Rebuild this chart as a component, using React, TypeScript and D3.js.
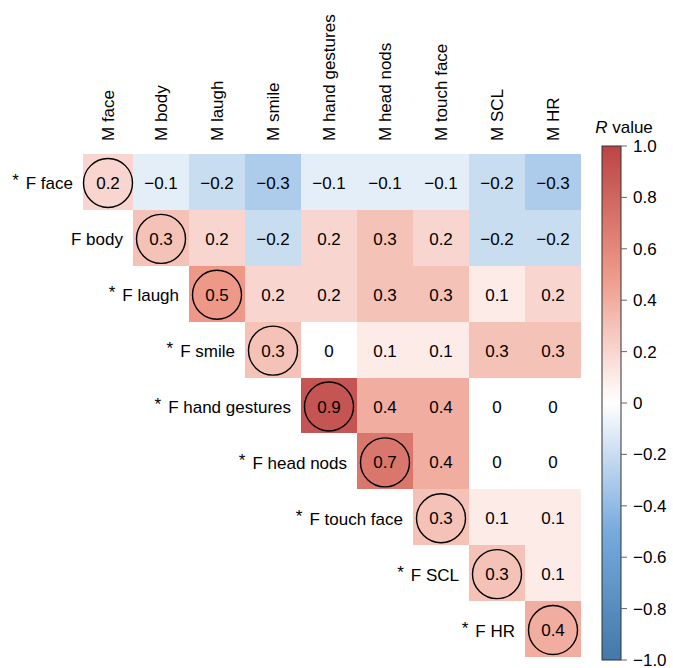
import { useEffect, useRef } from 'react'
import * as d3 from 'd3'

// Column (M) and row (F) labels
const colLabels = ['M face', 'M body', 'M laugh', 'M smile', 'M hand gestures', 'M head nods', 'M touch face', 'M SCL', 'M HR']
const rowLabels = ['F face', 'F body', 'F laugh', 'F smile', 'F hand gestures', 'F head nods', 'F touch face', 'F SCL', 'F HR']
// rows marked with an asterisk
const starred = [true, false, true, true, true, true, true, true, true]

// R values, upper triangle (null = not drawn)
const rValues: (number | null)[][] = [
  [0.2, -0.1, -0.2, -0.3, -0.1, -0.1, -0.1, -0.2, -0.3],
  [null, 0.3, 0.2, -0.2, 0.2, 0.3, 0.2, -0.2, -0.2],
  [null, null, 0.5, 0.2, 0.2, 0.3, 0.3, 0.1, 0.2],
  [null, null, null, 0.3, 0, 0.1, 0.1, 0.3, 0.3],
  [null, null, null, null, 0.9, 0.4, 0.4, 0, 0],
  [null, null, null, null, null, 0.7, 0.4, 0, 0],
  [null, null, null, null, null, null, 0.3, 0.1, 0.1],
  [null, null, null, null, null, null, null, 0.3, 0.1],
  [null, null, null, null, null, null, null, null, 0.4],
]

const legendTicks = [1, 0.8, 0.6, 0.4, 0.2, 0, -0.2, -0.4, -0.6, -0.8, -1]

const FONT = '"Liberation Sans", Arial, Helvetica, sans-serif'

const fmt = (v: number) => {
  if (v === 0) return '0'
  return (v < 0 ? '\u2212' : '') + d3.format('.1f')(Math.abs(v))
}

export default function App() {
  const svgRef = useRef<SVGSVGElement>(null)

  useEffect(() => {
    if (!svgRef.current) return
    const svg = d3.select(svgRef.current)
    svg.selectAll('*').remove()

    const color = d3.scaleLinear<string>()
      .domain([-1, -0.5, 0, 0.5, 1])
      .range(['#4477AA', '#77AADD', '#FFFFFF', '#EE9988', '#BB4444'])
      .interpolate(d3.interpolateRgb)

    const x = d3.scaleBand<number>().domain(d3.range(9)).range([77, 581])
    const y = d3.scaleBand<number>().domain(d3.range(9)).range([154, 657])
    const clipLeft = 83 // the first column is cropped on the left

    const x0 = (j: number) => Math.max(x(j)!, clipLeft)
    const x1 = (j: number) => x(j)! + x.bandwidth()
    const cx = (j: number) => (x0(j) + x1(j)) / 2
    const cy = (i: number) => y(i)! + y.bandwidth() / 2

    const cells = rValues.flatMap((row, i) =>
      row.map((v, j) => ({ i, j, v })).filter(d => d.v !== null)
    ) as { i: number; j: number; v: number }[]

    const g = svg.append('g').attr('font-family', FONT)

    // Cells
    g.append('g')
      .selectAll('rect')
      .data(cells)
      .join('rect')
      .attr('x', d => x0(d.j))
      .attr('y', d => y(d.i)!)
      .attr('width', d => x1(d.j) - x0(d.j))
      .attr('height', y.bandwidth())
      .attr('fill', d => color(d.v))
      .attr('shape-rendering', 'crispEdges')

    // Diagonal circles
    g.append('g')
      .selectAll('circle')
      .data(cells.filter(d => d.i === d.j))
      .join('circle')
      .attr('cx', d => cx(d.j))
      .attr('cy', d => cy(d.i) + 1)
      .attr('r', 24.5)
      .attr('fill', 'none')
      .attr('stroke', '#000')
      .attr('stroke-width', 1.4)

    // Cell values
    g.append('g')
      .selectAll('text')
      .data(cells)
      .join('text')
      .attr('x', d => cx(d.j))
      .attr('y', d => cy(d.i) + 7)
      .attr('text-anchor', 'middle')
      .attr('font-size', 17)
      .attr('fill', '#000')
      .text(d => fmt(d.v))

    // Row labels (asterisk raised slightly)
    const rl = g.append('g')
      .selectAll('text')
      .data(rowLabels)
      .join('text')
      .attr('x', (_, i) => x0(i) - 10)
      .attr('y', (_, i) => cy(i) + 7.5)
      .attr('text-anchor', 'end')
      .attr('font-size', 17)
    rl.filter((_, i) => starred[i])
      .append('tspan')
      .attr('dy', -3)
      .text('*')
    rl.append('tspan')
      .attr('dy', (_, i) => (starred[i] ? 3 : 0))
      .attr('dx', (_, i) => (starred[i] ? 7 : 0))
      .text(d => d)

    // Column labels
    g.append('g')
      .selectAll('text')
      .data(colLabels)
      .join('text')
      .attr('transform', (_, j) => `translate(${cx(j) + 6},141) rotate(-90)`)
      .attr('text-anchor', 'start')
      .attr('font-size', 17)
      .text(d => d)

    // Colour bar
    const barX = 602
    const barW = 19
    const yBar = d3.scaleLinear().domain([-1, 1]).range([660, 146])

    const defs = svg.append('defs')
    const grad = defs.append('linearGradient')
      .attr('id', 'rgrad')
      .attr('x1', 0).attr('y1', 1).attr('x2', 0).attr('y2', 0)
    d3.range(-1, 1.0001, 0.1).forEach(v => {
      grad.append('stop')
        .attr('offset', `${((v + 1) / 2) * 100}%`)
        .attr('stop-color', color(v))
    })

    const leg = g.append('g')
    leg.append('rect')
      .attr('x', barX)
      .attr('y', yBar(1))
      .attr('width', barW)
      .attr('height', yBar(-1) - yBar(1))
      .attr('fill', 'url(#rgrad)')
      .attr('stroke', '#333')
      .attr('stroke-width', 1)

    leg.selectAll('line')
      .data(legendTicks)
      .join('line')
      .attr('x1', barX + barW)
      .attr('x2', barX + barW + 6)
      .attr('y1', d => yBar(d))
      .attr('y2', d => yBar(d))
      .attr('stroke', '#666')
      .attr('stroke-width', 1)

    leg.selectAll('text.tick')
      .data(legendTicks)
      .join('text')
      .attr('class', 'tick')
      .attr('x', barX + barW + 12)
      .attr('y', d => yBar(d) + 6)
      .attr('font-size', 17)
      .text(d => fmt(d))

    const title = leg.append('text')
      .attr('x', 624)
      .attr('y', 133)
      .attr('text-anchor', 'middle')
      .attr('font-size', 17)
    title.append('tspan').attr('font-style', 'italic').text('R')
    title.append('tspan').text(' value')
  }, [])

  return (
    <>
      <style>{'body{margin:0}'}</style>
      <svg ref={svgRef} width={673} height={668} style={{ display: 'block', background: '#fff' }} />
    </>
  )
}
